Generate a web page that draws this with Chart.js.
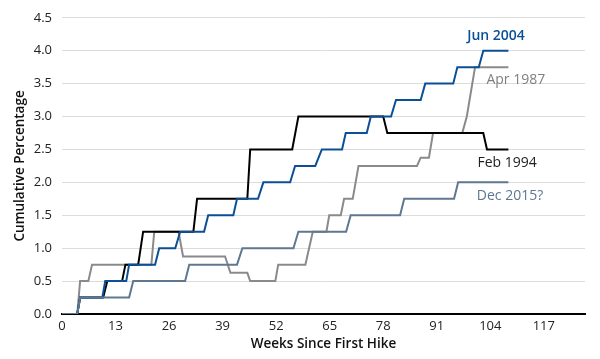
<!DOCTYPE html>
<html>
<head>
<meta charset="utf-8">
<script src="https://cdn.jsdelivr.net/npm/chart.js@4/dist/chart.umd.min.js"></script>
<style>
  html, body { margin: 0; padding: 0; background: #fff; }
  #wrap { width: 600px; height: 359px; }
</style>
</head>
<body>
<div id="wrap"><canvas id="myChart" width="600" height="359"></canvas></div>
<script>
// corner points of each step series: week, cumulative % change
const jun2004Weeks  = [0, 3.7, 4.4, 9.8, 10.5, 15.6, 16.3, 22.6, 23.6, 27.5, 28.7, 34.5, 35.5, 41.6, 42.5, 47.6, 48.9, 55.4, 56.6, 61.5, 63.1, 68, 68.9, 74, 75, 79.9, 81.1, 87.1, 88.2, 95, 96, 101.2, 102.3, 108.4];
const jun2004Values = [0, 0, 0.25, 0.25, 0.5, 0.5, 0.75, 0.75, 1.0, 1.0, 1.25, 1.25, 1.5, 1.5, 1.75, 1.75, 2.0, 2.0, 2.25, 2.25, 2.5, 2.5, 2.75, 2.75, 3.0, 3.0, 3.25, 3.25, 3.5, 3.5, 3.75, 3.75, 4.0, 4.0];

const feb1994Weeks  = [0, 3.7, 4.4, 10, 11, 14.6, 15.4, 18.5, 19.7, 31.9, 32.8, 45, 45.7, 55.9, 57.4, 78, 79, 102.3, 103.2, 108.4];
const feb1994Values = [0, 0, 0.25, 0.25, 0.5, 0.5, 0.75, 0.75, 1.25, 1.25, 1.75, 1.75, 2.5, 2.5, 3.0, 3.0, 2.75, 2.75, 2.5, 2.5];

const apr1987Weeks  = [0, 3.7, 4.4, 6.4, 7.3, 21.7, 22.4, 28.3, 29.4, 39.6, 40.9, 45, 45.7, 51.8, 52.5, 59.1, 60.9, 64.2, 64.9, 67.7, 68.5, 70.6, 72, 86.2, 87.1, 89.1, 90.1, 97.2, 98.3, 100.3, 108.4];
const apr1987Values = [0, 0, 0.5, 0.5, 0.75, 0.75, 1.25, 1.25, 0.875, 0.875, 0.625, 0.625, 0.5, 0.5, 0.75, 0.75, 1.25, 1.25, 1.5, 1.5, 1.75, 1.75, 2.25, 2.25, 2.375, 2.375, 2.75, 2.75, 3.0, 3.75, 3.75];

const dec2015Weeks  = [0, 3.7, 4.4, 16.3, 17.3, 29.9, 30.9, 42.5, 43.8, 56.2, 57.4, 69, 70.1, 82.1, 83.1, 95.2, 96.2, 108.4];
const dec2015Values = [0, 0, 0.25, 0.25, 0.5, 0.5, 0.75, 0.75, 1.0, 1.0, 1.25, 1.25, 1.5, 1.5, 1.75, 1.75, 2.0, 2.0];

const xTicks = [0, 13, 26, 39, 52, 65, 78, 91, 104, 117];
const yTicks = [0, 0.5, 1.0, 1.5, 2.0, 2.5, 3.0, 3.5, 4.0, 4.5];

function toPoints(weeks, values) {
  return weeks.map((w, i) => ({ x: w, y: values[i] }));
}

const FONT = "'Open Sans', 'DejaVu Sans', sans-serif";

// series name labels drawn at data coordinates
const seriesLabels = {
  id: 'seriesLabels',
  afterDatasetsDraw(chart) {
    const { ctx, scales: { x, y } } = chart;
    const items = [
      { text: 'Jun 2004',  wk: 105.4, val: 4.23, color: '#0b4f98', weight: '600' },
      { text: 'Apr 1987',  wk: 110.2, val: 3.55, color: '#7f7f7f', weight: '400' },
      { text: 'Feb 1994',  wk: 108.1, val: 2.30, color: '#222222', weight: '400' },
      { text: 'Dec 2015?', wk: 108.8, val: 1.79, color: '#5b7793', weight: '400' }
    ];
    ctx.save();
    ctx.textAlign = 'center';
    ctx.textBaseline = 'middle';
    items.forEach(it => {
      ctx.font = it.weight + ' 14px ' + FONT;
      ctx.fillStyle = it.color;
      ctx.fillText(it.text, x.getPixelForValue(it.wk), y.getPixelForValue(it.val));
    });
    ctx.restore();
  }
};

const ctx = document.getElementById('myChart');

new Chart(ctx, {
  type: 'line',
  data: {
    datasets: [
      {
        label: 'Dec 2015?',
        data: toPoints(dec2015Weeks, dec2015Values),
        borderColor: '#5f7891',
        borderWidth: 2
      },
      {
        label: 'Jun 2004',
        data: toPoints(jun2004Weeks, jun2004Values),
        borderColor: '#0b4f98',
        borderWidth: 2
      },
      {
        label: 'Feb 1994',
        data: toPoints(feb1994Weeks, feb1994Values),
        borderColor: '#000000',
        borderWidth: 2
      },
      {
        label: 'Apr 1987',
        data: toPoints(apr1987Weeks, apr1987Values),
        borderColor: '#8a8a8a',
        borderWidth: 2
      }
    ]
  },
  options: {
    responsive: false,
    animation: false,
    events: [],
    elements: { point: { radius: 0 }, line: { tension: 0 } },
    layout: { padding: { top: 15, right: 15, left: 0, bottom: 0 } },
    plugins: { legend: { display: false }, tooltip: { enabled: false } },
    scales: {
      x: {
        type: 'linear',
        min: 0,
        max: 127,
        afterBuildTicks: s => { s.ticks = xTicks.map(v => ({ value: v })); },
        afterFit: s => { s.height = 45; },
        grid: { display: false, drawTicks: false },
        border: { display: true, color: '#000', width: 2 },
        ticks: { color: '#222', font: { family: FONT, size: 13 }, padding: 4, maxRotation: 0 },
        title: {
          display: true,
          text: 'Weeks Since First Hike',
          color: '#111',
          font: { family: FONT, size: 13.5, weight: '600' },
          padding: { top: 0, bottom: 7 }
        }
      },
      y: {
        min: 0,
        max: 4.5,
        afterBuildTicks: s => { s.ticks = yTicks.map(v => ({ value: v })); },
        afterFit: s => { s.width = 62; },
        grid: { color: '#dcdcdc', lineWidth: 1, drawTicks: false },
        border: { display: false },
        ticks: {
          color: '#222',
          font: { family: FONT, size: 13 },
          padding: 10,
          callback: v => v.toFixed(1)
        },
        title: {
          display: true,
          text: 'Cumulative Percentage',
          color: '#111',
          font: { family: FONT, size: 13.5, weight: '600' },
          padding: { top: 12, bottom: 0 }
        }
      }
    }
  },
  plugins: [seriesLabels]
});
</script>
</body>
</html>
